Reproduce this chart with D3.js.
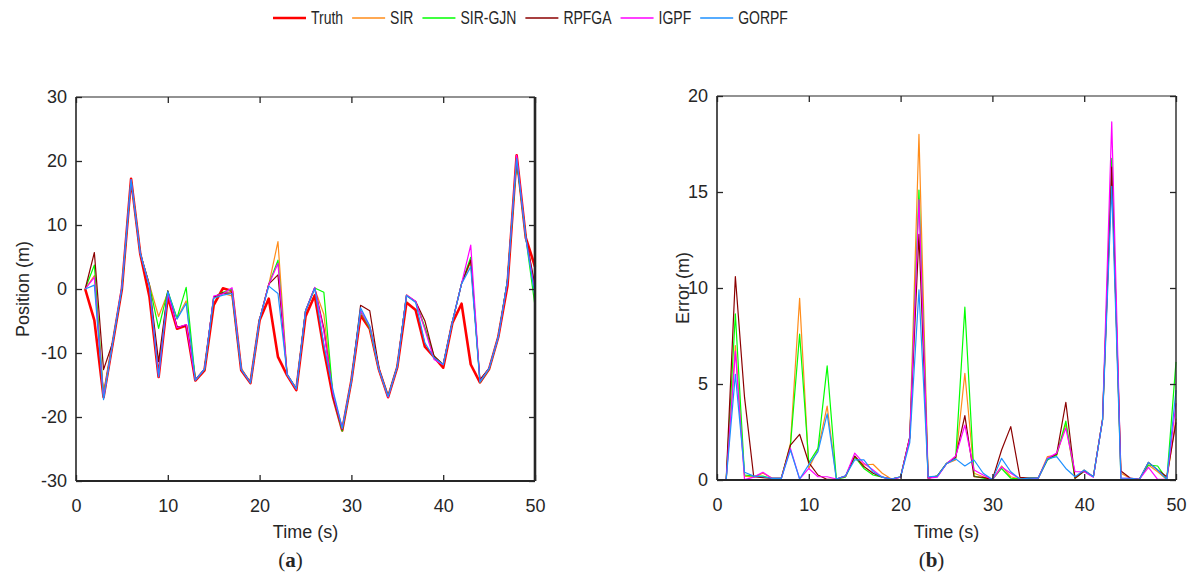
<!DOCTYPE html>
<html>
<head>
<meta charset="utf-8">
<script src="https://cdn.jsdelivr.net/npm/d3@7"></script>
<style>
  body { margin: 0; background: #fff; }
  text { font-family: "Liberation Sans", Arial, sans-serif; fill: #262626; }
</style>
</head>
<body>
<div id="chart"></div>
<script>
// time steps (s)
var time = d3.range(1, 51);

// ---- panel (a): positions (m) ----
var truth = [0, -4.9, -16.9, -8.5, 0, 17.2, 5.5, -1.2, -13.75, -1.2,
  -6.2, -5.7, -14.3, -12.7, -2.5, 0.1, -0.3, -12.7, -14.7, -4.9,
  -1.5, -10.6, -13.5, -15.8, -4.3, -1.0, -9.5, -16.9, -22.1, -14.3,
  -4.1, -6.2, -12.6, -16.9, -12.2, -2.1, -3.3, -9.0, -10.6, -12.3,
  -5.3, -2.3, -11.8, -14.6, -12.5, -7.5, 0.5, 20.9, 8.0, 3.5];
var posSIR = [0, 2.1, -16.7, -8.35, 0.35, 17.1, 5.6, 0.7, -4.3, -0.6,
  -4.6, -1.85, -14.25, -12.5, -1.3, -0.7, -1.1, -12.35, -14.65, -4.75,
  0.7, 7.4, -13.4, -15.6, -3.45, 0.05, -3.95, -16.55, -21.95, -14.3,
  -3.35, -6.05, -12.55, -16.8, -12.1, -0.9, -2.0, -6.1, -10.5, -11.8,
  -5.15, 0.85, 4.2, -14.25, -12.4, -7.5, 1.3, 20.5, 8.0, 0.3];
var posGJN = [0, 3.75, -16.65, -8.3, 0.2, 17.1, 5.6, 0.6, -6.15, -0.3,
  -4.55, 0.25, -14.25, -12.55, -1.3, -0.5, -0.05, -12.55, -14.65, -4.75,
  0.7, 4.5, -13.4, -15.6, -3.45, 0.15, -0.5, -16.7, -22.2, -14.3,
  -3.5, -6.1, -12.55, -16.8, -12.1, -1.05, -2.0, -5.95, -10.5, -11.85,
  -5.15, 0.85, 4.95, -14.6, -12.5, -7.5, 1.3, 20.2, 8.0, -2.65];
var posRPFGA = [0, 5.7, -12.6, -8.35, 0.1, 17.1, 5.6, 0.6, -11.35, -0.3,
  -5.95, -5.7, -14.25, -12.5, -1.25, -0.6, -0.65, -12.55, -14.65, -4.75,
  0.75, 2.2, -13.4, -15.6, -3.45, 0.2, -6.15, -16.75, -22.0, -14.3,
  -2.55, -3.4, -12.45, -16.8, -12.1, -1.0, -1.95, -4.95, -10.5, -11.8,
  -5.15, 0.85, 4.5, -14.15, -12.4, -7.5, 1.4, 20.4, 8.15, 0.5];
var posIGPF = [0, 1.8, -16.9, -8.35, 0.4, 17.1, 5.6, 0.45, -13.7, -0.6,
  -6.05, -5.55, -14.25, -12.5, -1.1, -0.75, 0.2, -12.55, -14.65, -4.75,
  0.7, 4.0, -13.4, -15.65, -3.45, 0.25, -6.65, -16.4, -21.85, -14.3,
  -3.4, -5.85, -12.55, -16.9, -12.1, -0.95, -1.9, -6.3, -11.0, -11.85,
  -5.15, 0.85, 6.85, -14.5, -12.4, -7.5, 1.15, 20.9, 8.0, -0.5];
var posGORPF = [0, 0.6, -17.3, -8.3, 0.15, 17.1, 5.6, 0.35, -13.7, -0.4,
  -4.7, -2.25, -14.25, -12.5, -1.45, -0.95, -0.7, -12.55, -14.65, -4.75,
  0.45, -0.7, -13.35, -15.6, -3.45, 0.1, -8.75, -15.85, -21.75, -14.3,
  -2.95, -5.75, -12.55, -16.8, -12.1, -1.0, -2.1, -8.4, -10.75, -11.8,
  -5.15, 0.8, 3.5, -14.5, -12.4, -7.5, 1.4, 20.4, 8.0, -1.2];

// ---- panel (b): errors (m) ----
var errSIR = [0, 7.0, 0.2, 0.15, 0.35, 0.1, 0.08, 1.9, 9.46, 0.6,
  1.6, 3.85, 0.05, 0.2, 1.2, 0.78, 0.82, 0.35, 0.05, 0.17,
  2.2, 18.0, 0.1, 0.2, 0.85, 1.04, 5.56, 0.35, 0.17, 0.02,
  0.73, 0.17, 0.05, 0.1, 0.1, 1.22, 1.3, 2.9, 0.09, 0.52,
  0.17, 3.15, 16.0, 0.35, 0.09, 0.03, 0.78, 0.43, 0.03, 3.2];
var errGJN = [0, 8.65, 0.26, 0.2, 0.2, 0.08, 0.08, 1.8, 7.6, 0.9,
  1.65, 5.94, 0.05, 0.15, 1.2, 0.6, 0.26, 0.15, 0.05, 0.17,
  2.2, 15.1, 0.1, 0.22, 0.87, 1.15, 9.0, 0.2, 0.09, 0.02,
  0.6, 0.09, 0.05, 0.1, 0.1, 1.04, 1.3, 3.07, 0.09, 0.45,
  0.17, 3.15, 16.75, 0.02, 0.02, 0.03, 0.78, 0.73, 0.03, 6.15];
var errRPFGA = [0, 10.6, 4.3, 0.17, 0.12, 0.08, 0.08, 1.82, 2.38, 0.9,
  0.26, 0.03, 0.05, 0.2, 1.25, 0.7, 0.35, 0.15, 0.05, 0.15,
  2.25, 12.8, 0.1, 0.2, 0.85, 1.2, 3.35, 0.17, 0.14, 0.02,
  1.56, 2.78, 0.14, 0.1, 0.1, 1.1, 1.35, 4.05, 0.09, 0.47,
  0.17, 3.15, 16.3, 0.47, 0.1, 0.03, 0.92, 0.52, 0.17, 3.0];
var errIGPF = [0, 6.7, 0.02, 0.15, 0.4, 0.08, 0.08, 1.65, 0.05, 0.6,
  0.17, 0.17, 0.05, 0.2, 1.4, 0.87, 0.52, 0.15, 0.05, 0.15,
  2.2, 14.6, 0.1, 0.15, 0.85, 1.25, 2.86, 0.52, 0.26, 0.02,
  0.68, 0.35, 0.05, 0.03, 0.1, 1.13, 1.4, 2.7, 0.43, 0.43,
  0.15, 3.15, 18.66, 0.09, 0.09, 0.03, 0.66, 0.03, 0.03, 4.0];
var errGORPF = [0, 5.5, 0.4, 0.2, 0.17, 0.08, 0.08, 1.56, 0.05, 0.8,
  1.48, 3.44, 0.05, 0.22, 1.05, 1.05, 0.43, 0.15, 0.05, 0.17,
  1.95, 9.9, 0.17, 0.2, 0.85, 1.1, 0.73, 1.04, 0.35, 0.02,
  1.13, 0.43, 0.05, 0.1, 0.1, 1.1, 1.22, 0.6, 0.17, 0.52,
  0.17, 3.1, 15.3, 0.09, 0.09, 0.03, 0.92, 0.52, 0.03, 4.68];

var names = ["Truth", "SIR", "SIR-GJN", "RPFGA", "IGPF", "GORPF"];
var colors = ["#ff0000", "#ff8c1a", "#00ff00", "#8b0000", "#ff00ff", "#1e90ff"];
var widths = [2.6, 1.2, 1.2, 1.2, 1.2, 1.2];

var xTicks = [0, 10, 20, 30, 40, 50];
var posTicks = [-30, -20, -10, 0, 10, 20, 30];
var errTicks = [0, 5, 10, 15, 20];

var svg = d3.select("#chart").append("svg")
  .attr("width", 1192)
  .attr("height", 578);

// draw one panel
function panel(p) {
  var x = d3.scaleLinear().domain([0, 50]).range([p.left, p.right]);
  var y = d3.scaleLinear().domain(p.yDomain).range([p.bottom, p.top]);
  var g = svg.append("g");

  var line = d3.line()
    .x(function(d, i) { return x(time[i]); })
    .y(function(d) { return y(d); });

  p.series.forEach(function(s) {
    g.append("path")
      .datum(s.values)
      .attr("fill", "none")
      .attr("stroke", colors[s.k])
      .attr("stroke-width", widths[s.k])
      .attr("stroke-linejoin", "round")
      .attr("d", line);
  });

  // axes with inward ticks (bottom/left labelled, top/right mirrored)
  var ax = g.append("g").attr("transform", "translate(0," + p.bottom + ")")
    .call(d3.axisBottom(x).tickValues(xTicks).tickFormat(function(d) { return d; })
      .tickSizeInner(-6).tickSizeOuter(0).tickPadding(18));
  var ay = g.append("g").attr("transform", "translate(" + p.left + ",0)")
    .call(d3.axisLeft(y).tickValues(p.yTicks).tickFormat(function(d) { return d; })
      .tickSizeInner(-6).tickSizeOuter(0).tickPadding(9));
  var at = g.append("g").attr("transform", "translate(0," + p.top + ")")
    .call(d3.axisTop(x).tickValues(xTicks).tickFormat("").tickSizeInner(-6).tickSizeOuter(0));
  var ar = g.append("g").attr("transform", "translate(" + p.right + ",0)")
    .call(d3.axisRight(y).tickValues(p.yTicks).tickFormat("").tickSizeInner(-6).tickSizeOuter(0));
  [ax, ay, at, ar].forEach(function(a) {
    a.select(".domain").remove();
    a.selectAll("line").attr("stroke", "#262626").attr("stroke-width", 1.3);
    a.selectAll("text").style("font-size", "18px").attr("fill", "#262626");
  });

  // box
  g.append("line").attr("x1", p.left).attr("x2", p.right).attr("y1", p.top).attr("y2", p.top)
    .attr("stroke", "#262626").attr("stroke-width", 1.2);
  g.append("line").attr("x1", p.left).attr("x2", p.right).attr("y1", p.bottom).attr("y2", p.bottom)
    .attr("stroke", "#262626").attr("stroke-width", 1.8);
  g.append("line").attr("x1", p.left).attr("x2", p.left).attr("y1", p.top).attr("y2", p.bottom)
    .attr("stroke", "#262626").attr("stroke-width", 1.6);
  g.append("line").attr("x1", p.right).attr("x2", p.right).attr("y1", p.top).attr("y2", p.bottom)
    .attr("stroke", "#262626").attr("stroke-width", p.rightWidth);

  var cx = (p.left + p.right) / 2;
  g.append("text")
    .attr("x", cx).attr("y", 538)
    .attr("text-anchor", "middle")
    .style("font-size", "18px")
    .text("Time (s)");

  g.append("text")
    .attr("transform", "translate(" + p.ylabelX + "," + ((p.top + p.bottom) / 2) + ") rotate(-90)")
    .attr("text-anchor", "middle")
    .style("font-size", "18px")
    .text(p.ylabel);

  var tag = g.append("text")
    .attr("x", cx - 15).attr("y", 567)
    .attr("text-anchor", "middle")
    .style("font-family", "'Liberation Serif', 'DejaVu Serif', serif")
    .style("font-size", "21px")
    .attr("fill", "#000");
  tag.append("tspan").text("(");
  tag.append("tspan").attr("font-weight", "bold").text(p.tag);
  tag.append("tspan").text(")");
}

panel({
  left: 76, right: 535, top: 97, bottom: 481,
  yDomain: [-30, 30], yTicks: posTicks,
  ylabel: "Position (m)", ylabelX: 29, tag: "a", rightWidth: 2.6,
  series: [
    {k: 0, values: truth},
    {k: 1, values: posSIR},
    {k: 2, values: posGJN},
    {k: 3, values: posRPFGA},
    {k: 4, values: posIGPF},
    {k: 5, values: posGORPF}
  ]
});

panel({
  left: 717, right: 1176, top: 96, bottom: 480,
  yDomain: [0, 20], yTicks: errTicks,
  ylabel: "Error (m)", ylabelX: 689, tag: "b", rightWidth: 1.4,
  series: [
    {k: 1, values: errSIR},
    {k: 2, values: errGJN},
    {k: 3, values: errRPFGA},
    {k: 4, values: errIGPF},
    {k: 5, values: errGORPF}
  ]
});

// legend
var legend = svg.append("g");
var lx = 273;
names.forEach(function(n, i) {
  legend.append("line")
    .attr("x1", lx).attr("x2", lx + 33)
    .attr("y1", 18).attr("y2", 18)
    .attr("stroke", colors[i])
    .attr("stroke-width", i === 0 ? 2.4 : 1.3);
  var t = legend.append("text")
    .attr("transform", "translate(" + (lx + 38) + ",24) scale(0.8,1)")
    .style("font-size", "17.5px")
    .text(n);
  var w = t.node().getComputedTextLength() * 0.8;
  lx += 33 + 5 + w + 9;
});
</script>
</body>
</html>
